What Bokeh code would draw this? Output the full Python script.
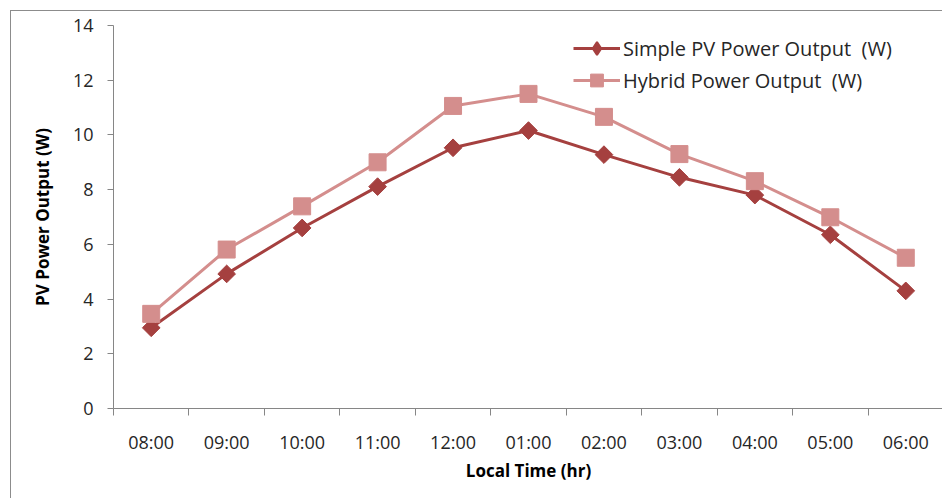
import numpy as np
from bokeh.plotting import figure
from bokeh.models import FixedTicker, Legend, LegendItem
from bokeh.embed import file_html
from bokeh.resources import INLINE

times = ["08:00", "09:00", "10:00", "11:00", "12:00", "01:00",
         "02:00", "03:00", "04:00", "05:00", "06:00"]
simple_pv = [2.95, 4.92, 6.6, 8.11, 9.53, 10.16, 9.28, 8.45, 7.8, 6.35, 4.3]
hybrid = [3.46, 5.81, 7.39, 9.0, 11.06, 11.5, 10.66, 9.3, 8.31, 6.99, 5.51]
y_ticks = [0, 2, 4, 6, 8, 10, 12, 14]

DARK = "#A5403F"
LIGHT = "#D48E8D"
AXIS = "#868686"
TEXT = "#262626"
FONT = "Open Sans"

n = len(times)
xc = list(np.arange(n) + 0.5)

p = figure(width=932, height=488, x_range=(0, n), y_range=(0, 14),
           output_backend="svg", toolbar_location=None,
           min_border_left=102, min_border_top=14, min_border_bottom=91,
           min_border_right=0, margin=(10, 0, 0, 10),
           styles={"border-left": "1px solid #8c8c8c",
                   "border-top": "1px solid #8c8c8c"})
p.outline_line_color = None
p.xgrid.grid_line_color = None
p.ygrid.grid_line_color = None
p.background_fill_color = "white"
p.border_fill_color = "white"

l1 = p.line(xc, simple_pv, line_color=DARK, line_width=3)
s1 = p.scatter(xc, simple_pv, marker="square", size=12.5, angle=np.pi / 4,
               fill_color=DARK, line_color=DARK)
l2 = p.line(xc, hybrid, line_color=LIGHT, line_width=3)
s2 = p.scatter(xc, hybrid, marker="square", size=17,
               fill_color=LIGHT, line_color=LIGHT)
# legend-only diamond marker (legend glyphs are drawn unrotated);
# its single point is NaN so nothing is drawn in the plot area
s1_leg = p.scatter(x=[np.nan], y=[np.nan], marker="diamond", size=12,
                   fill_color=DARK, line_color=DARK, line_width=2)

# x axis: labels at category centres, ticks between categories
xa = p.xaxis[0]
xa.ticker = FixedTicker(ticks=xc, minor_ticks=list(range(n + 1)))
xa.major_label_overrides = {float(c): t for c, t in zip(xc, times)}
xa.major_tick_line_color = None
xa.major_tick_out = 7
xa.major_tick_in = 0
xa.minor_tick_line_color = AXIS
xa.minor_tick_out = 7
xa.minor_tick_in = 0
xa.axis_line_color = AXIS
xa.major_label_text_font = FONT
xa.major_label_text_font_size = "18px"
xa.major_label_text_color = TEXT
xa.major_label_standoff = 14
xa.axis_label = "Local Time (hr)"
xa.axis_label_text_font = FONT
xa.axis_label_text_font_size = "17px"
xa.axis_label_text_font_style = "bold"
xa.axis_label_text_color = "#000000"
xa.axis_label_standoff = 2

ya = p.yaxis[0]
ya.ticker = FixedTicker(ticks=y_ticks)
ya.minor_tick_line_color = None
ya.major_tick_line_color = AXIS
ya.major_tick_out = 6
ya.major_tick_in = 0
ya.axis_line_color = AXIS
ya.major_label_text_font = FONT
ya.major_label_text_font_size = "18px"
ya.major_label_text_color = TEXT
ya.major_label_standoff = 14
ya.axis_label = "PV Power Output (W)"
ya.axis_label_text_font = FONT
ya.axis_label_text_font_size = "17px"
ya.axis_label_text_font_style = "bold"
ya.axis_label_text_color = "#000000"
ya.axis_label_standoff = 16

legend = Legend(items=[
    LegendItem(label="Simple PV Power Output  (W)", renderers=[l1, s1_leg]),
    LegendItem(label="Hybrid Power Output  (W)", renderers=[l2, s2]),
], location=(460, 312))
legend.border_line_color = None
legend.background_fill_alpha = 0
legend.padding = 0
legend.margin = 0
legend.spacing = 0
legend.glyph_width = 47
legend.glyph_height = 32
legend.label_height = 32
legend.label_standoff = 3
legend.label_text_font = FONT
legend.label_text_font_size = "20px"
legend.label_text_color = TEXT
p.add_layout(legend)

open("out.html", "w").write(file_html(p, INLINE))
